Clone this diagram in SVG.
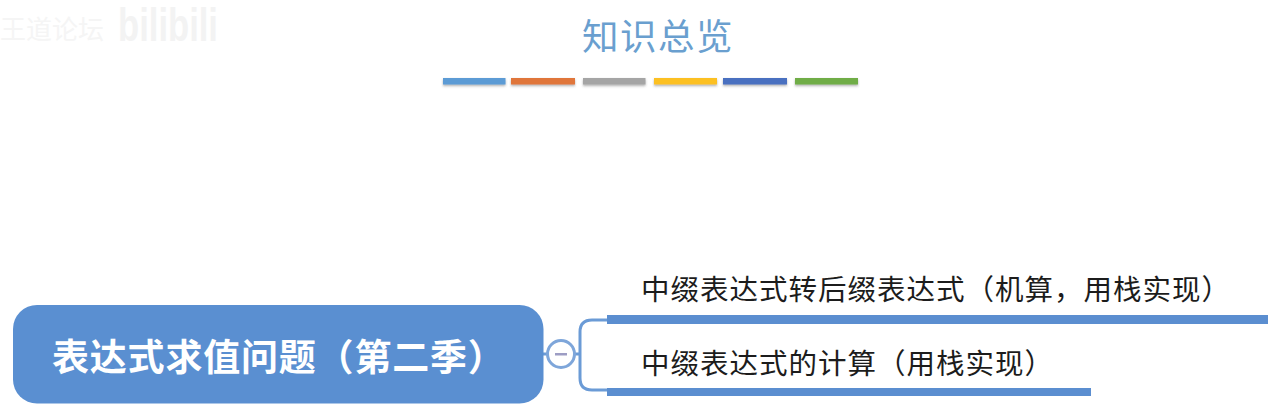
<svg xmlns="http://www.w3.org/2000/svg" width="1274" height="408" viewBox="0 0 1274 408">
<style>
.cjk{font-family:"Noto Sans CJK SC","Liberation Sans",sans-serif}
.bar{filter:url(#sh)}
.lbl{font-size:28.5px;fill:#1c1c1c;letter-spacing:1px}
.line{fill:#5b8ed0}
.conn{fill:none;stroke:#6b9bd6;stroke-width:3}
</style>
<defs>
<filter id="sh" x="-5%" y="-50%" width="110%" height="220%"><feDropShadow dx="0" dy="1.5" stdDeviation="1" flood-color="#555" flood-opacity="0.45"/></filter>
</defs>
<rect width="1274" height="408" fill="#fff"/>
<g id="watermark">
<text class="cjk" x="0" y="39" font-size="26" fill="#f5f5f5">王道论坛</text>
<text x="118" y="41" font-family="Liberation Sans,sans-serif" font-weight="700" font-size="46" fill="#f3f3f3" textLength="100" lengthAdjust="spacingAndGlyphs">bilibili</text>
</g>
<g id="title">
<text class="cjk" x="582" y="50" font-size="36.5" fill="#6a9fcf" letter-spacing="1.500">知识总览</text>
<rect class="bar" x="443" y="78" width="62.500" height="6.500" fill="#5b9bd5"/>
<rect class="bar" x="511" y="78" width="64" height="6.500" fill="#e0763a"/>
<rect class="bar" x="583" y="78" width="62.500" height="6.500" fill="#a5a5a5"/>
<rect class="bar" x="654" y="78" width="63" height="6.500" fill="#fcc020"/>
<rect class="bar" x="723" y="78" width="64" height="6.500" fill="#4a70c0"/>
<rect class="bar" x="795" y="78" width="63" height="6.500" fill="#70ad47"/>
</g>
<g id="connectors">
<path class="conn" d="M543 354H547M575 354H580M607 320H592Q580 320 580 332V378Q580 390 592 390H607"/>
</g>
<g id="root">
<rect x="13" y="305" width="530.500" height="98.500" rx="24" fill="#5a8fd1"/>
<text class="cjk" x="52" y="371" font-size="37" font-weight="700" fill="#fff" letter-spacing="0.800">表达式求值问题（第二季）</text>
</g>
<g id="collapse">
<circle cx="561" cy="354" r="13.500" fill="#fff" stroke="#7ea6da" stroke-width="3"/>
<rect x="555" y="353" width="12" height="2.500" fill="#9d9dc4"/>
</g>
<g id="branch1">
<text class="cjk lbl" x="641" y="300">中缀表达式转后缀表达式（机算，用栈实现）</text>
<rect class="line" x="607" y="315" width="661" height="9"/>
</g>
<g id="branch2">
<text class="cjk lbl" x="641" y="374">中缀表达式的计算（用栈实现）</text>
<rect class="line" x="607" y="388" width="484" height="8"/>
</g>
</svg>
